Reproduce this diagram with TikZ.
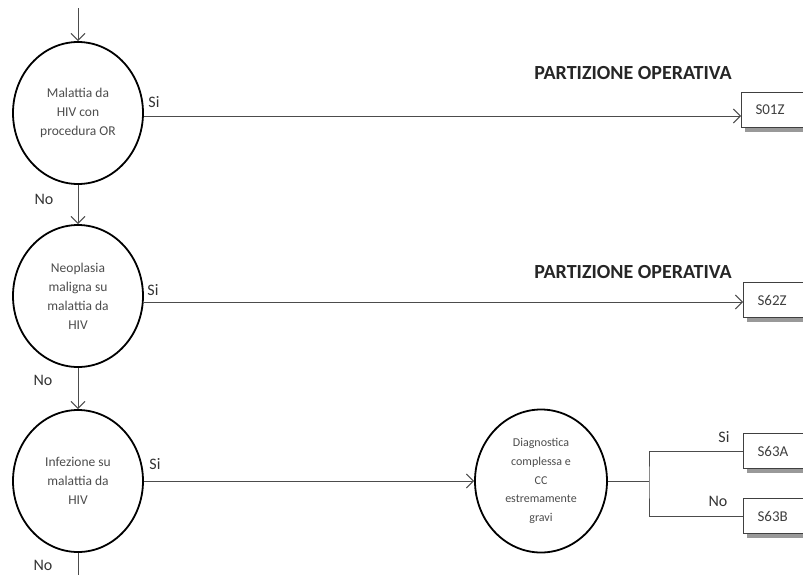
\documentclass[tikz,border=0pt]{standalone}
\usepackage{fontspec}
\setmainfont{Carlito}
\usetikzlibrary{shapes.geometric,shadows,arrows.meta}

\begin{document}
\begin{tikzpicture}[x=1pt,y=-1pt,
    test/.style={ellipse, draw, line width=1.8pt, inner sep=0pt, minimum width=130pt, minimum height=142pt, align=center, font=\fontsize{13.5}{19}\selectfont, text=black!70},
    drg/.style={rectangle, draw=black!75, line width=1pt, fill=white, anchor=west, minimum height=35pt, text width=62pt, inner xsep=14pt, align=left, font=\fontsize{15}{16}\selectfont, text=black!75, drop shadow={shadow xshift=3pt, shadow yshift=-4pt, fill=black!40, opacity=1}},
    lbl/.style={font=\fontsize{16}{18}\selectfont, text=black!80},
    part/.style={font=\bfseries\fontsize{20}{22}\selectfont, text=black!85},
    wire/.style={draw=black!70, line width=1pt},
    >={Straight Barb[length=7pt,width=14pt]}]
    \useasboundingbox (0,0) rectangle (803,574);

    % tests
    \node[test] (hivor) at (78,113) {Malattia da\\HIV con\\procedura OR};
    \node[test] (neo) at (78,296) {Neoplasia\\maligna su\\malattia da\\HIV};
    \node[test] (infez) at (78,481) {Infezione su\\malattia da\\HIV};
    \node[test, minimum width=132pt, minimum height=143pt, font=\fontsize{12}{18.7}\selectfont] (diag) at (541,481) {Diagnostica\\complessa e\\CC\\estremamente\\gravi};

    % drg
    \node[drg] (s01z) at (741,110) {S01Z};
    \node[drg] (s62z) at (743,300) {S62Z};
    \node[drg] (s63a) at (743,451) {S63A};
    \node[drg] (s63b) at (743,516) {S63B};

    \node[part] (part1) at (633,73) {PARTIZIONE OPERATIVA};
    \node[part] (part2) at (633,272) {PARTIZIONE OPERATIVA};

    \node[lbl] (si1) at (154,102) {Si};
    \node[lbl] (no1) at (44,199) {No};
    \node[lbl] (si2) at (153,290) {Si};
    \node[lbl] (no2) at (43,380) {No};
    \node[lbl] (si3) at (155,464) {Si};
    \node[lbl] (no3) at (43,565) {No};
    \node[lbl] (si4) at (724,437) {Si};
    \node[lbl] (no4) at (718,501) {No};

    \coordinate (start) at (78,8);
    \coordinate (cont) at (78,580);
    \coordinate (fork) at (649,481);
    \coordinate (arr1) at (741,116);
    \coordinate (arr2) at (743,302);

    % connectors
    \draw[wire, ->] (start) -- (hivor);
    \draw[wire, ->] (hivor.east |- arr1) -- (arr1);
    \draw[wire, ->] (hivor) -- (neo);
    \draw[wire, ->] (neo.east |- arr2) -- (arr2);
    \draw[wire, ->] (neo) -- (infez);
    \draw[wire, ->] (infez) -- (diag);
    \draw[wire] (infez) -- (cont);
    \draw[wire] (diag.east) -- (fork);
    \draw[wire] (s63a.west) -| (fork) |- (s63b.west);
\end{tikzpicture}
\end{document}
